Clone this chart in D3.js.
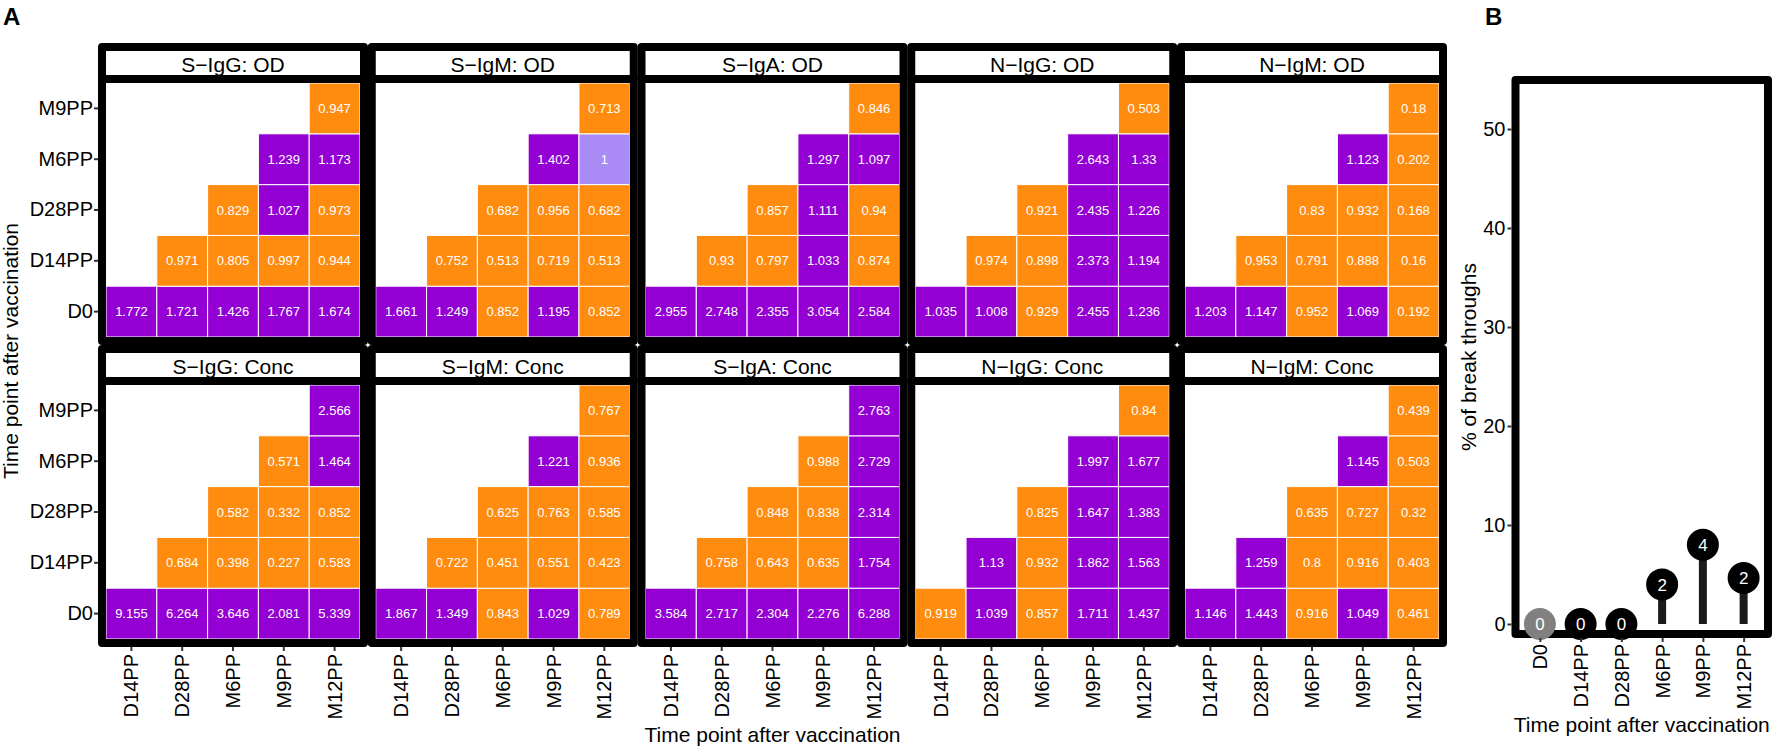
<!DOCTYPE html>
<html>
<head>
<meta charset="utf-8">
<script src="https://cdn.jsdelivr.net/npm/d3@7"></script>
<style>
body { margin: 0; background: #fff; }
text { font-family: "Liberation Sans", Arial, sans-serif; }
</style>
</head>
<body>
<svg id="chart" width="1772" height="748"></svg>
<script>
// ---- data ----
var xCats = ["D14PP", "D28PP", "M6PP", "M9PP", "M12PP"];
var yCats = ["D0", "D14PP", "D28PP", "M6PP", "M9PP"];

// rows follow yCats (D0 first), columns follow xCats, null = no cell
var sIgG_OD = [
    [1.772, 1.721, 1.426, 1.767, 1.674],
    [null, 0.971, 0.805, 0.997, 0.944],
    [null, null, 0.829, 1.027, 0.973],
    [null, null, null, 1.239, 1.173],
    [null, null, null, null, 0.947]];
var sIgM_OD = [
    [1.661, 1.249, 0.852, 1.195, 0.852],
    [null, 0.752, 0.513, 0.719, 0.513],
    [null, null, 0.682, 0.956, 0.682],
    [null, null, null, 1.402, 1],
    [null, null, null, null, 0.713]];
var sIgA_OD = [
    [2.955, 2.748, 2.355, 3.054, 2.584],
    [null, 0.93, 0.797, 1.033, 0.874],
    [null, null, 0.857, 1.111, 0.94],
    [null, null, null, 1.297, 1.097],
    [null, null, null, null, 0.846]];
var nIgG_OD = [
    [1.035, 1.008, 0.929, 2.455, 1.236],
    [null, 0.974, 0.898, 2.373, 1.194],
    [null, null, 0.921, 2.435, 1.226],
    [null, null, null, 2.643, 1.33],
    [null, null, null, null, 0.503]];
var nIgM_OD = [
    [1.203, 1.147, 0.952, 1.069, 0.192],
    [null, 0.953, 0.791, 0.888, 0.16],
    [null, null, 0.83, 0.932, 0.168],
    [null, null, null, 1.123, 0.202],
    [null, null, null, null, 0.18]];
var sIgG_Conc = [
    [9.155, 6.264, 3.646, 2.081, 5.339],
    [null, 0.684, 0.398, 0.227, 0.583],
    [null, null, 0.582, 0.332, 0.852],
    [null, null, null, 0.571, 1.464],
    [null, null, null, null, 2.566]];
var sIgM_Conc = [
    [1.867, 1.349, 0.843, 1.029, 0.789],
    [null, 0.722, 0.451, 0.551, 0.423],
    [null, null, 0.625, 0.763, 0.585],
    [null, null, null, 1.221, 0.936],
    [null, null, null, null, 0.767]];
var sIgA_Conc = [
    [3.584, 2.717, 2.304, 2.276, 6.288],
    [null, 0.758, 0.643, 0.635, 1.754],
    [null, null, 0.848, 0.838, 2.314],
    [null, null, null, 0.988, 2.729],
    [null, null, null, null, 2.763]];
var nIgG_Conc = [
    [0.919, 1.039, 0.857, 1.711, 1.437],
    [null, 1.13, 0.932, 1.862, 1.563],
    [null, null, 0.825, 1.647, 1.383],
    [null, null, null, 1.997, 1.677],
    [null, null, null, null, 0.84]];
var nIgM_Conc = [
    [1.146, 1.443, 0.916, 1.049, 0.461],
    [null, 1.259, 0.8, 0.916, 0.403],
    [null, null, 0.635, 0.727, 0.32],
    [null, null, null, 1.145, 0.503],
    [null, null, null, null, 0.439]];

var panelTitles = [
    "S\u2212IgG: OD", "S\u2212IgM: OD", "S\u2212IgA: OD", "N\u2212IgG: OD", "N\u2212IgM: OD",
    "S\u2212IgG: Conc", "S\u2212IgM: Conc", "S\u2212IgA: Conc", "N\u2212IgG: Conc", "N\u2212IgM: Conc"];
var panelValues = [sIgG_OD, sIgM_OD, sIgA_OD, nIgG_OD, nIgM_OD,
    sIgG_Conc, sIgM_Conc, sIgA_Conc, nIgG_Conc, nIgM_Conc];

// panel B
var btCats = ["D0", "D14PP", "D28PP", "M6PP", "M9PP", "M12PP"];
var btPercent = [0, 0, 0, 4, 8, 4.65];
var btCount = [0, 0, 0, 2, 4, 2];
var btTicks = [0, 10, 20, 30, 40, 50];

// ---- drawing ----
var svg = d3.select("#chart");
var cellSize = 254, pitchX = 269.75, pitchY = 302;
var left0 = 106, top0 = 83;
var tickCol = "#333333";

function cellColor(v){
    if (v > 1) return "#9400D3";
    if (v < 1) return "#FF8C0F";
    return "#AA8BF5";
}

function flatten(values){
    var out = [];
    values.forEach(function(row, i){
        row.forEach(function(v, j){
            if (v !== null) out.push({y: yCats[i], x: xCats[j], v: v});
        });
    });
    return out;
}

function styleAxis(g){
    g.select(".domain").remove();
    g.selectAll(".tick line").attr("stroke", tickCol).attr("stroke-width", 2);
    g.selectAll(".tick text").attr("fill", "#000").style("font-size", "20px")
        .style("font-family", '"Liberation Sans", Arial, sans-serif');
}

function drawPanel(k){
    var col = k % 5, row = Math.floor(k / 5);
    var x0 = left0 + col * pitchX, y0 = top0 + row * pitchY;
    var x = d3.scaleBand().domain(xCats).range([x0, x0 + cellSize]);
    var y = d3.scaleBand().domain(yCats).range([y0 + cellSize, y0]);
    var g = svg.append("g").attr("class", "panel");

    var cells = g.selectAll("g.cell").data(flatten(panelValues[k])).enter()
        .append("g").attr("class", "cell");
    cells.append("rect")
        .attr("x", function(d){ return x(d.x); })
        .attr("y", function(d){ return y(d.y); })
        .attr("width", x.bandwidth())
        .attr("height", y.bandwidth())
        .attr("fill", function(d){ return cellColor(d.v); })
        .attr("stroke", "#fff").attr("stroke-width", 1);
    cells.append("text")
        .attr("x", function(d){ return x(d.x) + x.bandwidth() / 2; })
        .attr("y", function(d){ return y(d.y) + y.bandwidth() / 2; })
        .attr("dy", "0.35em")
        .attr("text-anchor", "middle")
        .attr("fill", "#fff")
        .style("font-size", "13px")
        .text(function(d){ return d.v; });

    // panel border and strip
    g.append("rect")
        .attr("x", x0 - 4).attr("y", y0 - 4)
        .attr("width", cellSize + 8).attr("height", cellSize + 8)
        .attr("fill", "none").attr("stroke", "#000").attr("stroke-width", 8)
        .attr("stroke-linejoin", "round");
    g.append("rect")
        .attr("x", x0 - 4).attr("y", y0 - 36)
        .attr("width", cellSize + 8).attr("height", 32)
        .attr("fill", "#fff").attr("stroke", "#000").attr("stroke-width", 8)
        .attr("stroke-linejoin", "round");
    g.append("text")
        .attr("x", x0 + cellSize / 2).attr("y", y0 - 11.5)
        .attr("text-anchor", "middle")
        .style("font-size", "21px")
        .text(panelTitles[k]);

    if (col == 0) {
        var ya = g.append("g").attr("transform", "translate(" + (x0 - 8) + ",0)")
            .call(d3.axisLeft(y).tickSize(4).tickPadding(1));
        styleAxis(ya);
    }
    if (row == 1) {
        var xa = g.append("g").attr("transform", "translate(0," + (y0 + cellSize + 8) + ")")
            .call(d3.axisBottom(x).tickSize(4).tickPadding(3));
        styleAxis(xa);
        xa.selectAll(".tick text")
            .attr("transform", "rotate(-90)")
            .attr("x", -7).attr("y", 0).attr("dy", "0.35em")
            .attr("text-anchor", "end");
    }
}

for (var k = 0; k < panelValues.length; k++) drawPanel(k);

// panel A titles
svg.append("text").attr("x", 3).attr("y", 25)
    .style("font-size", "24px").style("font-weight", "bold").text("A");
svg.append("text")
    .attr("transform", "translate(18,351) rotate(-90)")
    .attr("text-anchor", "middle").style("font-size", "21px")
    .text("Time point after vaccination");
svg.append("text")
    .attr("x", left0 + (4 * pitchX + cellSize) / 2).attr("y", 742)
    .attr("text-anchor", "middle").style("font-size", "21px")
    .text("Time point after vaccination");

// ---- panel B: lollipop ----
var bLeft = 1519.5, bRight = 1764, bTop = 84, bBottom = 630;
var bx = d3.scalePoint().domain(btCats).range([bLeft, bRight]).padding(0.5);
var by = d3.scaleLinear().domain([0, 50]).range([624, 129]);
var gb = svg.append("g").attr("class", "panelB");

gb.append("rect")
    .attr("x", bLeft - 4).attr("y", bTop - 4)
    .attr("width", bRight - bLeft + 8).attr("height", bBottom - bTop + 8)
    .attr("fill", "none").attr("stroke", "#000").attr("stroke-width", 8)
    .attr("stroke-linejoin", "round");

var pts = btCats.map(function(c, i){ return {c: c, p: btPercent[i], n: btCount[i], i: i}; });

gb.selectAll("line.stem").data(pts).enter().append("line")
    .attr("class", "stem")
    .attr("x1", function(d){ return bx(d.c); })
    .attr("x2", function(d){ return bx(d.c); })
    .attr("y1", by(0))
    .attr("y2", function(d){ return by(d.p); })
    .attr("stroke", "#1a1a1a").attr("stroke-width", 8);

gb.selectAll("circle.pt").data(pts).enter().append("circle")
    .attr("class", "pt")
    .attr("cx", function(d){ return bx(d.c); })
    .attr("cy", function(d){ return by(d.p); })
    .attr("r", 16)
    .attr("fill", function(d){ return d.i == 0 ? "#808080" : "#000"; });

gb.selectAll("text.lab").data(pts).enter().append("text")
    .attr("class", "lab")
    .attr("x", function(d){ return bx(d.c); })
    .attr("y", function(d){ return by(d.p); })
    .attr("dy", "0.36em")
    .attr("text-anchor", "middle")
    .attr("fill", "#fff")
    .style("font-size", "17px")
    .text(function(d){ return d.n; });

var bya = gb.append("g").attr("transform", "translate(" + (bLeft - 8) + ",0)")
    .call(d3.axisLeft(by).tickValues(btTicks).tickSize(4).tickPadding(2));
styleAxis(bya);

var bxa = gb.append("g").attr("transform", "translate(0," + (bBottom + 8) + ")")
    .call(d3.axisBottom(bx).tickSize(4).tickPadding(3));
styleAxis(bxa);
bxa.selectAll(".tick text")
    .attr("transform", "rotate(-90)")
    .attr("x", -6).attr("y", 0).attr("dy", "0.35em")
    .attr("text-anchor", "end");

svg.append("text").attr("x", 1485).attr("y", 25)
    .style("font-size", "24px").style("font-weight", "bold").text("B");
svg.append("text")
    .attr("transform", "translate(1476,357) rotate(-90)")
    .attr("text-anchor", "middle").style("font-size", "21px")
    .text("% of break throughs");
svg.append("text")
    .attr("x", (bLeft + bRight) / 2).attr("y", 732)
    .attr("text-anchor", "middle").style("font-size", "21px")
    .text("Time point after vaccination");
</script>
</body>
</html>
